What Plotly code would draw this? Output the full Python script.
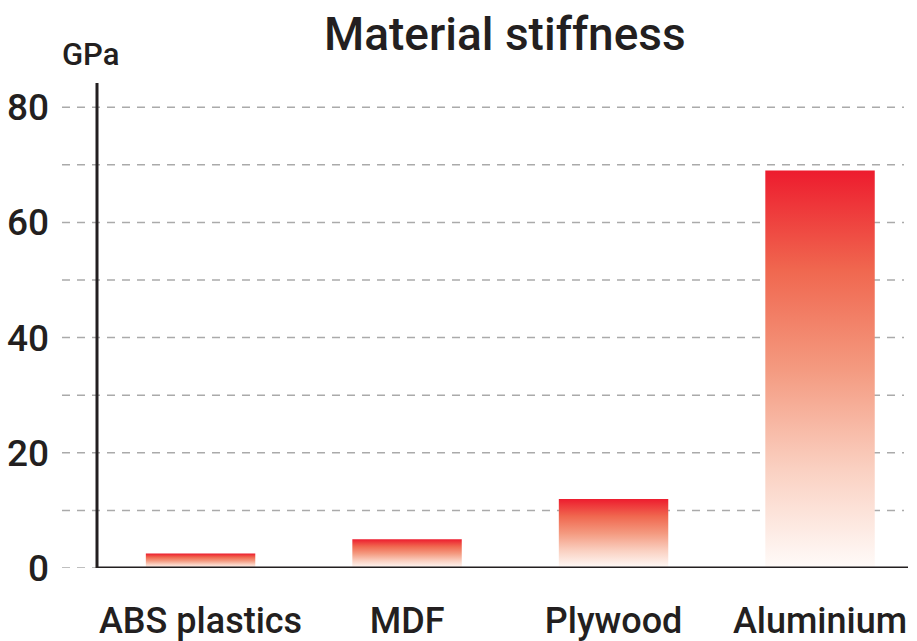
import plotly.graph_objects as go

categories = ["ABS plastics", "MDF", "Plywood", "Aluminium"]
stiffness_gpa = [2.5, 5.0, 12.0, 69.0]
y_ticks = [0, 20, 40, 60, 80]
grid_values = [0, 10, 20, 30, 40, 50, 60, 70, 80]

FONT = "Roboto, Liberation Sans Narrow, Arial Narrow, sans-serif"
INK = "#231F20"
BAR_W = 0.53
GRAD = [[0.0, "#FFFBF9"], [0.25, "#FAD0C1"], [0.5, "#F49A80"],
        [0.75, "#F0674F"], [1.0, "#ED1C2E"]]

W, H = 917, 641
L, R, T, B = 62, 9, 83, 73
X_RANGE = [-0.671, 3.426]
Y_RANGE = [0, 84.2]

fig = go.Figure()
for i, (cat, v) in enumerate(zip(categories, stiffness_gpa)):
    x0, x1 = i - BAR_W / 2, i + BAR_W / 2
    fig.add_trace(go.Scatter(
        x=[x0, x1, x1, x0, x0], y=[0, 0, v, v, 0],
        mode="lines", fill="toself",
        line=dict(width=0, color="rgba(0,0,0,0)"),
        fillgradient=dict(type="vertical", colorscale=GRAD),
        name=cat, hoverinfo="skip", showlegend=False))

plot_w = W - L - R
plot_h = H - T - B
axis_x_paper = (97 - L) / plot_w

shapes = [
    dict(type="line", xref="paper", yref="y", x0=axis_x_paper, x1=axis_x_paper,
         y0=0, y1=Y_RANGE[1], line=dict(color=INK, width=3)),
    dict(type="line", xref="paper", yref="y", x0=axis_x_paper, x1=1,
         y0=0, y1=0, line=dict(color=INK, width=3)),
]

fig.update_layout(
    width=W, height=H,
    margin=dict(l=L, r=R, t=T, b=B, autoexpand=False),
    paper_bgcolor="white", plot_bgcolor="white",
    font=dict(family=FONT, color=INK),
    shapes=shapes,
    xaxis=dict(range=X_RANGE, tickmode="array", tickvals=list(range(len(categories))),
               ticktext=categories, showgrid=False, zeroline=False, showline=False,
               ticks="", automargin=False,
               tickfont=dict(size=36, family=FONT, color=INK, weight=500),
               ticklabelstandoff=28),
    yaxis=dict(range=Y_RANGE, tickmode="array", tickvals=y_ticks,
               showgrid=False, zeroline=False, showline=False, ticks="",
               automargin=False,
               tickfont=dict(size=37, family=FONT, color=INK, weight=500),
               ticklabelstandoff=12),
    annotations=[
        dict(text="Material stiffness", xref="paper", yref="paper",
             x=(505 - L) / plot_w, y=1 + (83 - 34) / plot_h,
             xanchor="center", yanchor="middle", showarrow=False,
             font=dict(size=46, family=FONT, color=INK, weight=500)),
        dict(text="GPa", xref="paper", yref="paper",
             x=(60 - L) / plot_w, y=1 + (83 - 55) / plot_h,
             xanchor="left", yanchor="middle", showarrow=False,
             font=dict(size=31, family=FONT, color=INK, weight=500)),
    ],
)

for g in grid_values:
    fig.add_shape(type="line", xref="paper", yref="y", x0=0, x1=(904 - L) / plot_w,
                  y0=g, y1=g, layer="below",
                  line=dict(color="#AAAAAA", width=1.5, dash="8px,7px"))

fig.write_html("out.html", config={"displayModeBar": False, "staticPlot": True},
               post_script="document.body.style.margin='0';document.body.style.overflow='hidden';")
